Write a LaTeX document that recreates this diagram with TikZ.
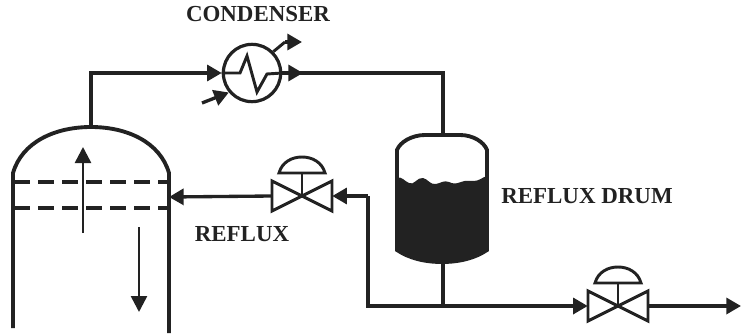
\documentclass[tikz,border=0pt]{standalone}
\usepackage{fontspec}
\setmainfont{Liberation Serif}
\usetikzlibrary{arrows.meta, positioning}
\definecolor{inkline}{HTML}{222222}
\tikzset{
  pipe/.style     = {draw=inkline, line width=2.5pt, line join=miter},
  thinpipe/.style = {draw=inkline, line width=2.2pt},
  flowtip/.style  = {-{Triangle[length=11pt, width=12pt]}, draw=inkline, line width=2.5pt},
  traytip/.style  = {-{Triangle[length=12pt, width=12pt]}, draw=inkline, line width=1.9pt},
  tray/.style     = {draw=inkline, line width=2.6pt, dash pattern=on 12pt off 6pt},
  vessel/.style   = {draw=inkline, line width=2.9pt},
  lbl/.style      = {font=\bfseries\fontsize{17.2}{20}\selectfont, text=inkline, inner sep=0pt},
  valvebody/.style = {minimum width=45pt, minimum height=23pt, inner sep=0pt},
  condbody/.style  = {circle, draw=inkline, line width=2.4pt, fill=white,
                      minimum size=43pt, inner sep=0pt},
}
% bowtie with actuator on top, drawn round a named valve node
\newcommand{\ctrlvalve}[1]{
  \begin{scope}[shift={(#1.center)}]
    \draw[thinpipe, fill=white, line join=miter] (-30,-15) -- (30,15) -- (30,-15) -- (-30,15) -- cycle;
    \draw[thinpipe] (0,0) -- (0,-23);
    \draw[thinpipe, fill=white] (-23,-23) .. controls (-20,-34) and (-10,-39) .. (0,-39)
        .. controls (10,-39) and (20,-34) .. (23,-23) -- cycle;
  \end{scope}
}
\begin{document}
\begin{tikzpicture}[x=0.75pt, y=-0.75pt]
  \useasboundingbox (0,0) rectangle (741,335);
  % column
  \draw[vessel] (13,328) -- (13,173) .. controls (22,142) and (55,127) .. (91,127)
      .. controls (127,127) and (160,142) .. (169,173) -- (169,333);
  \draw[tray] (14,182) -- (168,182);
  \draw[tray] (14,208) -- (168,208);
  \coordinate (coltop) at (91,127);
  \coordinate (colfeed) at (169,197);
  \coordinate (upfrom) at (83,233);
  \coordinate (upto) at (83,147);
  \coordinate (downfrom) at (139,227);
  \coordinate (downto) at (139,312);
  \draw[traytip] (upfrom) -- (upto);
  \draw[traytip] (downfrom) -- (downto);
  % condenser
  \node[condbody] (cond) at (252,73) {};
  \draw[thinpipe, line join=miter] (cond.west) -- (240,73) -- (247,56) -- (257,92) -- (267,74) -- (cond.east);
  \coordinate (condout) at (303,73);
  \coordinate (coolin) at (202,103);
  \coordinate (coolout) at (302,42);
  \coordinate (coolbend) at (285,42);
  \draw[pipe] (coltop) |- (214,73);
  \draw[flowtip] (214,73) -- (cond.west);
  \draw[flowtip] (cond.east) -- (condout);
  \draw[flowtip] (coolin) -- (cond.-140);
  \draw[thinpipe] (cond.45) -- (coolbend);
  \draw[flowtip] (coolbend) -- (coolout);
  % reflux drum
  \node[minimum width=67.5pt, minimum height=95pt, inner sep=0pt] (drum) at (443,198.5) {};
  \draw[vessel, fill=white] (397,150) .. controls (400,142) and (412,135) .. (425,135) -- (460,135)
      .. controls (473,135) and (484,142) .. (487,150) -- (487,250)
      .. controls (475,258) and (460,262) .. (442,262) .. controls (424,262) and (409,258) .. (397,250) -- cycle;
  \fill[inkline] (397,178) .. controls (402,176) and (404,181) .. (409,183)
      .. controls (414,186) and (417,177) .. (423,178) .. controls (428,179) and (430,185) .. (436,184)
      .. controls (441,183) and (444,180) .. (449,182) .. controls (453,184) and (456,184) .. (461,182)
      .. controls (466,180) and (470,181) .. (474,181) .. controls (479,181) and (483,177) .. (487,176)
      -- (487,250) .. controls (475,258) and (460,262) .. (442,262)
      .. controls (424,262) and (409,258) .. (397,250) -- cycle;
  \draw[pipe] (295,73) -| (drum.north);
  % valves
  \node[valvebody] (rfxvalve) at (302,196) {};
  \node[valvebody] (outvalve) at (618,306) {};
  \ctrlvalve{rfxvalve}
  \ctrlvalve{outvalve}
  \coordinate (rfxcorner) at (368,196);
  \coordinate (junc) at (443,306);
  \coordinate (outend) at (741,306);
  \draw[pipe] (drum.south) -- (junc);
  \draw[pipe] (573,306) -- (junc) -- (368,306) -- (rfxcorner);
  \draw[flowtip] (rfxcorner) -- (rfxvalve.east);
  \draw[flowtip] (573,306) -- (outvalve.west);
  \draw[flowtip] (outvalve.east) -- (outend);
  \draw[flowtip] (rfxvalve.west) -- (colfeed);
  % labels
  \node[lbl] (condlbl) at (258,14) {CONDENSER};
  \node[lbl] (drumlbl) at (587,196) {REFLUX DRUM};
  \node[lbl] (rfxlbl) at (242,234) {REFLUX};
\end{tikzpicture}
\end{document}
